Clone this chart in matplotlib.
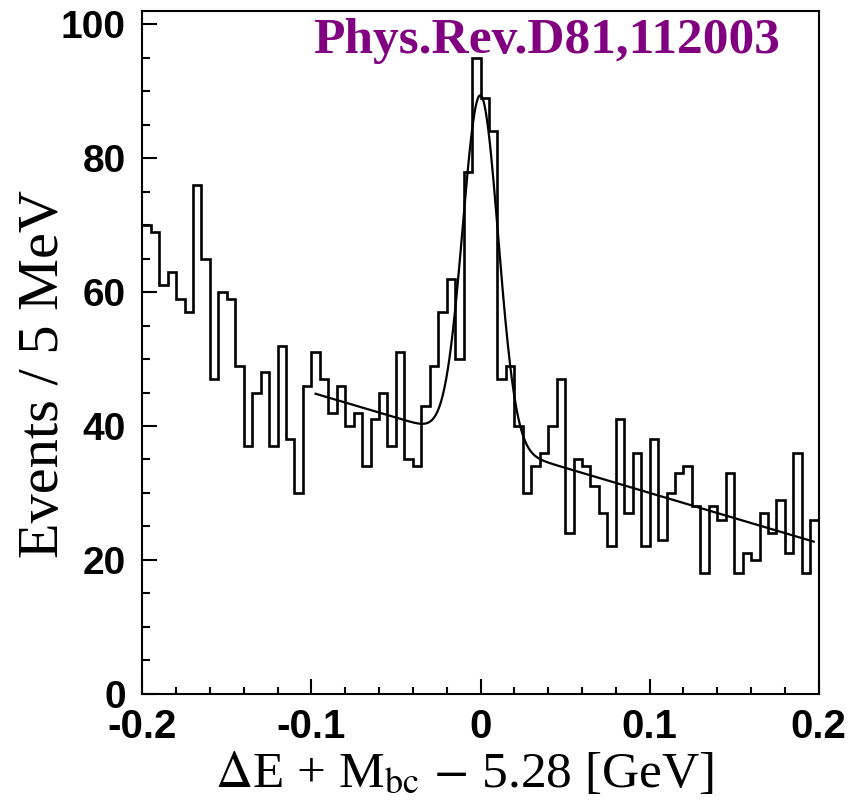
import numpy as np
import matplotlib
matplotlib.use("Agg")
import matplotlib.pyplot as plt
from matplotlib.ticker import MultipleLocator, FormatStrFormatter

plt.rcParams['axes.unicode_minus'] = False
plt.rcParams['mathtext.fontset'] = 'stix'

# Contenido del histograma (80 bins de 5 MeV, de -0.2 a 0.2 GeV)
x_min, x_max = -0.2, 0.2
n_bins = 80
counts = [70, 69, 61, 63, 59, 57, 76, 65, 47, 60,
          59, 49, 37, 45, 48, 37, 52, 38, 30, 46,
          51, 47, 42, 46, 40, 42, 34, 41, 45, 37,
          51, 35, 34, 43, 49, 57, 62, 50, 78, 95,
          89, 84, 47, 49, 40, 30, 34, 36, 40, 47,
          24, 35, 34, 31, 27, 22, 41, 27, 36, 22,
          38, 23, 30, 33, 34, 28, 18, 28, 26, 33,
          18, 21, 20, 27, 24, 29, 21, 36, 18, 26]

# Parámetros del ajuste (gaussiana + fondo lineal)
fit_range = (-0.0975, 0.197)
peak_mean = 0.0
peak_sigma = 0.0105
peak_amp = 51.9
bkg_at_zero = 37.5
bkg_slope = -75.0

label_text = "Phys.Rev.D81,112003"

W, H = 852, 801
fig = plt.figure(figsize=(W / 100, H / 100), dpi=100)
ax = fig.add_axes([142.3 / W, 1 - 693.7 / H, (818.7 - 142.3) / W, (693.7 - 11) / H])

edges = np.linspace(x_min, x_max, n_bins + 1)
ax.stairs(counts, edges, baseline=None, color='black', linewidth=1.9)

xf = np.linspace(fit_range[0], fit_range[1], 600)
yf = bkg_at_zero + bkg_slope * xf + peak_amp * np.exp(-0.5 * ((xf - peak_mean) / peak_sigma) ** 2)
ax.plot(xf, yf, color='black', linewidth=1.6)

ax.set_xlim(x_min, x_max)
ax.set_ylim(0, 102)

ax.xaxis.set_major_locator(MultipleLocator(0.1))
ax.xaxis.set_minor_locator(MultipleLocator(0.02))
ax.yaxis.set_major_locator(MultipleLocator(20))
ax.yaxis.set_minor_locator(MultipleLocator(5))
ax.xaxis.set_major_formatter(matplotlib.ticker.FuncFormatter(lambda v, p: "0" if abs(v) < 1e-9 else f"{v:.1f}"))
ax.yaxis.set_major_formatter(FormatStrFormatter('%d'))

ax.tick_params(which='both', direction='in', top=False, right=False, width=1.5)
ax.tick_params(which='major', length=10.8)
ax.tick_params(which='minor', length=5.4)
ax.tick_params(axis='x', which='major', labelsize=29, pad=10)
ax.tick_params(axis='y', which='major', labelsize=28, pad=12)
for lab in ax.get_xticklabels() + ax.get_yticklabels():
    lab.set_fontfamily('Liberation Sans')
    lab.set_fontweight('bold')
for sp in ax.spines.values():
    sp.set_linewidth(1.5)

# Etiquetas de los ejes
fig.text(58 / W, 1 - 373.5 / H, "Events / 5 MeV", rotation=90, rotation_mode='anchor',
         ha='center', va='baseline', fontsize=42, family='Liberation Serif')
fig.text(464.5 / W, 1 - 787 / H, r"$\Delta$E + M$_{\rm bc}$ $-$ 5.28 [GeV]",
         ha='center', va='baseline', fontsize=37, family='Liberation Serif')

fig.text(780 / W, 1 - 53 / H, label_text, ha='right', va='baseline', fontsize=37,
         family='Liberation Serif', fontweight='bold', color='#800080')

fig.savefig("out.png", dpi=100)
